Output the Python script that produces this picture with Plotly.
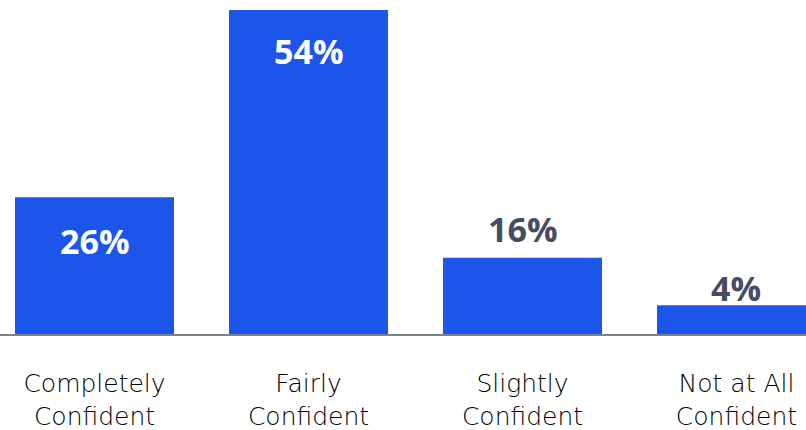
import plotly.graph_objects as go

categories = ["Completely<br>Confident", "Fairly<br>Confident", "Slightly<br>Confident", "Not at All<br>Confident"]
percent_labels = ["26%", "54%", "16%", "4%"]
# bar lengths as drawn in the picture (same % scale, top bar = 54)
bar_lengths = [22.8, 54.0, 12.7, 4.8]

BAR_COLOR = "#1b55ea"
label_inside = [True, True, False, False]
label_shift = [-44, -41, 29, 17]

fig = go.Figure()
fig.add_trace(go.Bar(
    x=categories, y=bar_lengths, marker_color=BAR_COLOR, width=0.743,
    marker_line_width=0, hoverinfo="skip",
))

for cat, val, txt, inside, sh in zip(categories, bar_lengths, percent_labels, label_inside, label_shift):
    fig.add_annotation(
        x=cat, y=val, text=f"<b>{txt}</b>", showarrow=False, yshift=sh,
        xanchor="center", yanchor="middle",
        font=dict(family="Open Sans", size=34, color="white" if inside else "#454c63"),
    )

fig.update_layout(
    width=806, height=430,
    margin=dict(l=0, r=0, t=0, b=96),
    plot_bgcolor="white", paper_bgcolor="white",
    showlegend=False,
    xaxis=dict(
        range=[-0.4416, 3.3248], showgrid=False, showline=True,
        linecolor="#7d818c", linewidth=2, ticks="outside", ticklen=26,
        tickcolor="rgba(0,0,0,0)",
        tickfont=dict(family="DejaVu Sans", size=25, color="#000000", weight=200),
        fixedrange=True,
    ),
    yaxis=dict(range=[0, 55.67], visible=False, fixedrange=True),
)

fig.write_html("out.html")
